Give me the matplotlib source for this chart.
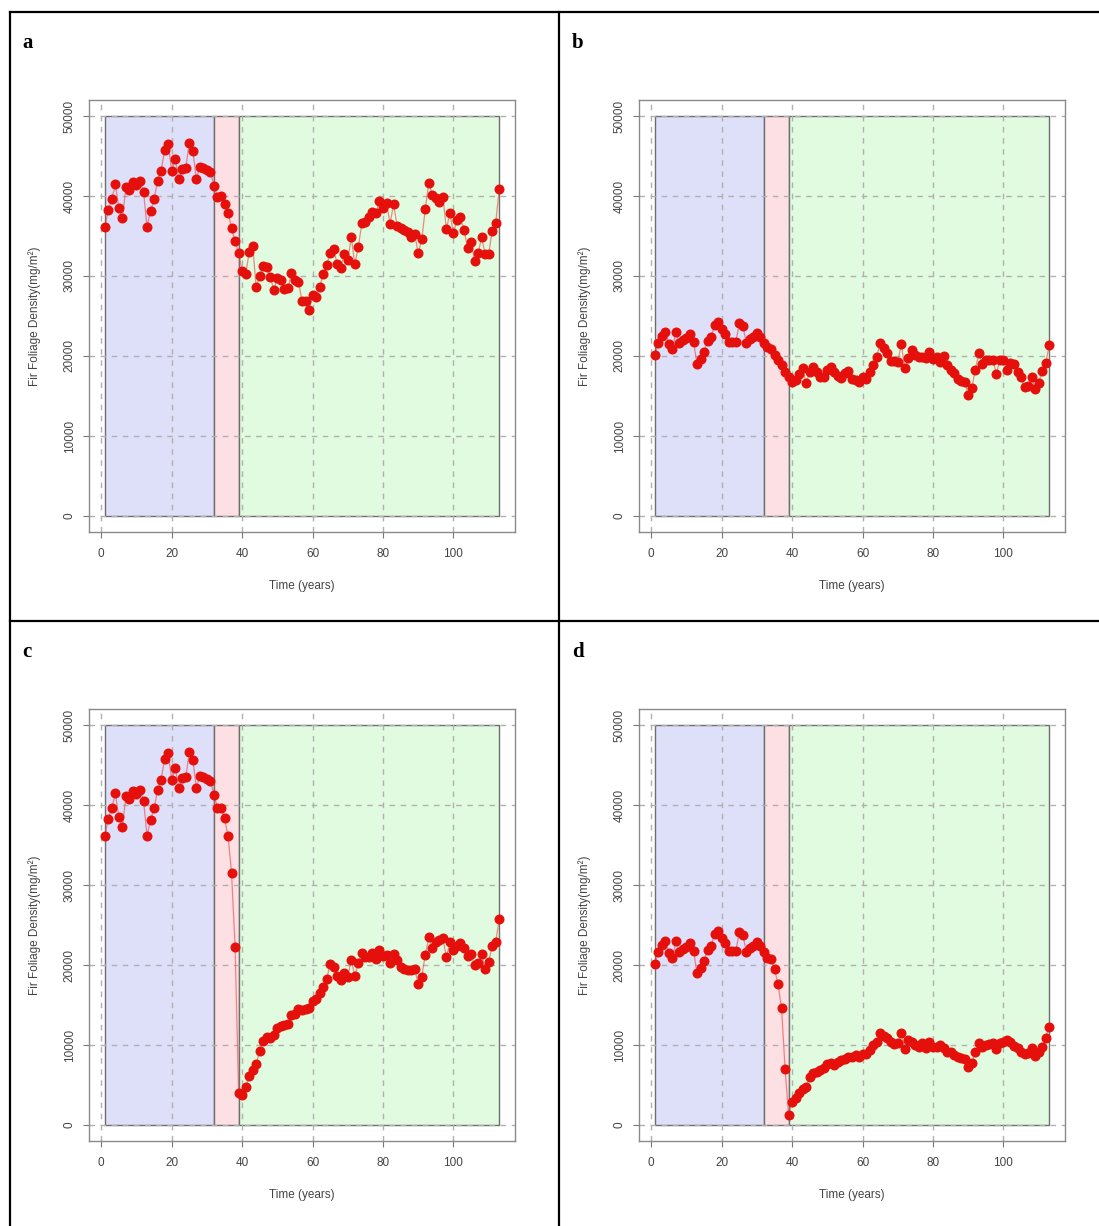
import matplotlib
matplotlib.use("Agg")
import matplotlib.pyplot as plt
from matplotlib.lines import Line2D
from matplotlib.patches import Rectangle

plt.rcParams["font.family"] = ["Liberation Sans", "DejaVu Sans"]

# ---- data ------------------------------------------------------------------
years = list(range(1, 114))

# years 1-32 are shared by panels a/c and by panels b/d
early_ac = [36160, 38250, 39600, 41460, 38460, 37250, 41080, 40750, 41790, 41400,
            41920, 40540, 36160, 38130, 39580, 41920, 43170, 45750, 46500, 43170,
            44580, 42125, 43330, 43460, 46670, 45670, 42125, 43670, 43460, 43250,
            43040, 41290]
early_bd = [20125, 21670, 22500, 23040, 21500, 20830, 22960, 21580, 22000, 22210,
            22750, 21790, 18960, 19580, 20540, 21920, 22420, 23875, 24290, 23330,
            22800, 21710, 21710, 21710, 24080, 23750, 21670, 22080, 22420, 22830,
            22420, 21670]

# years 33-113
late_a = [39920, 40000, 39000, 37920, 35960, 34330, 32920, 30670, 30210, 32960,
          33750, 28580, 30000, 31290, 31170, 29920, 28250, 29800, 29500, 28370,
          28450, 30330, 29500, 29290, 26870, 26870, 25750, 27620, 27330, 28580,
          30210, 31370, 32830, 33370, 31460, 31040, 32750, 32000, 34830, 31460,
          33670, 36580, 36790, 37420, 38040, 37830, 39370, 38540, 39170, 36500,
          39000, 36290, 35960, 35750, 35540, 34920, 35250, 32830, 34580, 38330,
          41670, 40130, 39790, 39210, 39920, 35880, 37830, 35330, 37000, 37330,
          35750, 33540, 34290, 31870, 32830, 34830, 32750, 32710, 35670, 36670,
          40830]
late_b = [21170, 20830, 20125, 19500, 18880, 18040, 17330, 16790, 17000, 17800,
          18460, 16580, 18040, 18670, 18040, 17420, 17420, 18200, 18670, 18040,
          17500, 17290, 17920, 18170, 17130, 17000, 16790, 17330, 17130, 18040,
          18875, 19920, 21580, 21040, 20330, 19380, 19400, 19290, 21460, 18460,
          19710, 20750, 20125, 19920, 19850, 19790, 20540, 19580, 19920, 19290,
          20000, 18875, 18250, 17830, 17080, 16920, 16790, 15125, 15960, 18250,
          20330, 18960, 19500, 19500, 19550, 17750, 19500, 19500, 18250, 19080,
          19000, 18040, 17330, 16080, 16250, 17330, 15830, 16670, 18170, 19080,
          21380]
late_c = [39670, 39670, 38330, 36130, 31460, 22290, 4040, 3750, 4710, 6130,
          6880, 7630, 9250, 10500, 11040, 10830, 11250, 12080, 12420, 12500,
          12625, 13750, 13880, 14460, 14375, 14460, 14580, 15540, 15710, 16460,
          17290, 18250, 20125, 19790, 18625, 18130, 19040, 18540, 20630, 18625,
          20290, 21540, 21040, 21040, 21540, 20710, 21875, 21125, 21250, 20290,
          21420, 20630, 19790, 19500, 19375, 19375, 19460, 17630, 18540, 21250,
          23460, 22080, 22920, 23125, 23330, 20960, 22920, 21875, 22380, 22710,
          22080, 21125, 21420, 19960, 20290, 21330, 19500, 20330, 22380, 22920,
          25710]
late_d = [20830, 20710, 19460, 17580, 14580, 7000, 1250, 2920, 3330, 3960,
          4460, 4790, 6040, 6460, 6670, 6880, 7080, 7630, 7710, 7500,
          7920, 8125, 8300, 8540, 8460, 8750, 8540, 8830, 8920, 9330,
          10000, 10420, 11540, 11170, 10830, 10420, 10130, 10210, 11460, 9500,
          10625, 10420, 10000, 9790, 10210, 9670, 10420, 9790, 9710, 10000,
          9580, 9170, 9170, 8750, 8540, 8330, 8210, 7290, 7710, 9170,
          10300, 9790, 10000, 10130, 10300, 9460, 10210, 10420, 10625, 10420,
          9920, 9580, 9170, 8880, 9040, 9580, 8630, 9170, 9790, 10920,
          12210]

panel_labels = ["a", "b", "c", "d"]
panel_series = [early_ac + late_a, early_bd + late_b,
                early_ac + late_c, early_bd + late_d]

# phase bands (start year, end year, colour)
phases = [(1, 32, "#dedff9"), (32, 39, "#fde0e3"), (39, 113, "#e0fbdf")]

x_ticks = [0, 20, 40, 60, 80, 100]
y_ticks = [0, 10000, 20000, 30000, 40000, 50000]

# ---- figure ------------------------------------------------------------------
W, H = 1099, 1226
fig = plt.figure(figsize=(W / 100, H / 100), dpi=100)


def fx(px):
    return px / W


def fy(py):
    return 1 - py / H


# panel origins (top-left of panel cell) in pixels
origins = [(0, 0), (550, 0), (0, 609), (550, 609)]

for (ox, oy), label, vals in zip(origins, panel_labels, panel_series):
    left, right, top, bottom = 89 + ox, 515 + ox, 100 + oy, 532 + oy
    ax = fig.add_axes([fx(left), fy(bottom), fx(right - left), fy(top) - fy(bottom)])
    ax.set_xlim(-3.48, 117.48)
    ax.set_ylim(-2000, 52000)

    for x0, x1, col in phases:
        ax.add_patch(Rectangle((x0, 0), x1 - x0, 50000, facecolor=col,
                               edgecolor="#6e6e6e", lw=1.0, zorder=1))

    ax.set_axisbelow("line")
    ax.grid(True, linestyle=(0, (4, 4)), color="#b0b0b0", lw=1.0)

    ax.plot(years, vals, "-", color="#ee4040", alpha=0.6, lw=0.9, zorder=3)
    ax.plot(years, vals, "o", color="#e5100c", ms=6.2, mec="#e5100c", zorder=4)

    ax.set_xticks(x_ticks)
    ax.set_yticks(y_ticks)
    ax.tick_params(direction="out", length=4.5, width=0.8, color="#777777",
                   labelsize=8.5, labelcolor="#444444")
    ax.tick_params(axis="x", pad=7)
    ax.tick_params(axis="y", pad=5)
    for t in ax.get_yticklabels():
        t.set_rotation(90)
        t.set_va("center")
    for s in ax.spines.values():
        s.set_color("#8a8a8a")
        s.set_linewidth(1.0)

    fig.text(fx((left + right) / 2), fy(586 + oy), "Time (years)", ha="center",
             va="center", fontsize=8.5, color="#444444")
    fig.text(fx(35 + ox), fy((top + bottom) / 2), "Fir Foliage Density(mg/m²)",
             rotation=90, ha="center", va="center", fontsize=8.5, color="#444444")
    fig.text(fx(22 + ox), fy(43 + oy), label, ha="left", va="center",
             fontsize=15, fontweight="bold", family="Liberation Serif")

# panel frame lines
frame = [((10, 10), (12, H)), ((10, W), (12, 12)),
         ((559, 559), (12, H)), ((10, W), (621, 621))]
for xs, ys in frame:
    fig.add_artist(Line2D([fx(xs[0]), fx(xs[1])], [fy(ys[0]), fy(ys[1])],
                          transform=fig.transFigure, color="black", lw=1.6))

fig.savefig("out.png", dpi=100, facecolor="white")
